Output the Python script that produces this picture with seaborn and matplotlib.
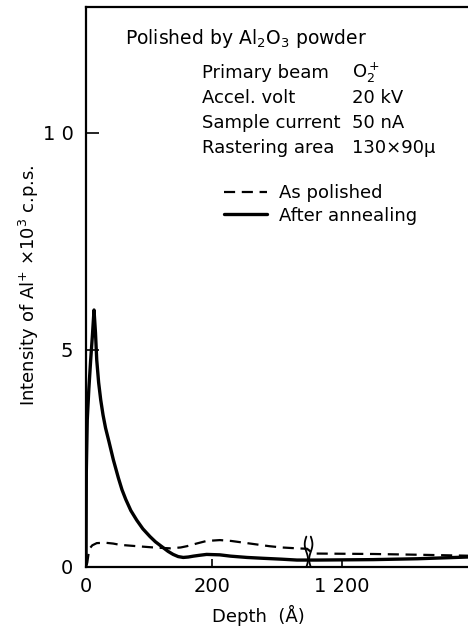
import numpy as np
import pandas as pd
import matplotlib
matplotlib.use("Agg")
import matplotlib.pyplot as plt
from matplotlib.lines import Line2D
import seaborn as sns

# Depth profiles of Al+ secondary-ion intensity (x10^3 c.p.s.) vs depth (Angstrom)
depth_polished = [1, 2, 4, 6, 10, 17, 30, 43, 54, 80, 107, 133, 150, 160, 175,
                  191, 212, 230, 250, 270, 290, 310, 334, 350,
                  1155, 1250, 1330, 1400]
intensity_polished = [0.05, 0.1, 0.3, 0.43, 0.5, 0.55, 0.56, 0.54, 0.51, 0.48,
                      0.45, 0.43, 0.45, 0.48, 0.54, 0.6, 0.62, 0.6, 0.56, 0.52,
                      0.48, 0.45, 0.43, 0.42,
                      0.31, 0.30, 0.28, 0.26]

depth_annealed = [0, 0.5, 2, 4.5, 7.4, 10, 12.7, 15, 17, 20, 23.3, 27, 31, 36.5,
                  43.3, 51.3, 57, 62.9, 71, 80.3, 90, 101.4, 110, 120, 130,
                  138, 146, 154, 162, 170, 180, 191, 212, 229, 255, 281, 310,
                  334, 350, 1160, 1250, 1320, 1400]
intensity_annealed = [0, 2.2, 3.39, 4.1, 4.77, 5.3, 5.92, 5.4, 4.77, 4.25, 3.85,
                      3.5, 3.2, 2.88, 2.47, 2.05, 1.78, 1.56, 1.3, 1.08, 0.88,
                      0.7, 0.58, 0.47, 0.36, 0.29, 0.24, 0.22, 0.23, 0.25,
                      0.27, 0.29, 0.28, 0.25, 0.22, 0.2, 0.18, 0.16, 0.16,
                      0.16, 0.17, 0.19, 0.23]

series_labels = ["As polished", "After annealing"]
x_ticks = [0, 200, 1200]
x_ticklabels = ["0", "200", "1 200"]
y_ticks = [0, 5, 10]
y_ticklabels = ["0", "5", "1 0"]

# Broken depth axis: 350-1150 A is squeezed into a narrow gap
BREAK_LO, BREAK_HI, GAP = 350.0, 1150.0, 5.0
SPAN = BREAK_HI - BREAK_LO


def forward(d):
    d = np.asarray(d, dtype=float)
    return np.where(d <= BREAK_LO, d,
                    np.where(d >= BREAK_HI, d - SPAN + GAP,
                             BREAK_LO + (d - BREAK_LO) * GAP / SPAN))


def inverse(p):
    p = np.asarray(p, dtype=float)
    return np.where(p <= BREAK_LO, p,
                    np.where(p >= BREAK_LO + GAP, p + SPAN - GAP,
                             BREAK_LO + (p - BREAK_LO) * SPAN / GAP))


df = pd.concat([
    pd.DataFrame({"depth": depth_polished, "intensity": intensity_polished,
                  "state": series_labels[0]}),
    pd.DataFrame({"depth": depth_annealed, "intensity": intensity_annealed,
                  "state": series_labels[1]}),
], ignore_index=True)

sns.set_style("white")
plt.rcParams["font.family"] = ["DejaVu Sans"]
plt.rcParams["mathtext.fontset"] = "dejavusans"
plt.rcParams["text.color"] = "black"
plt.rcParams["axes.labelcolor"] = "black"
plt.rcParams["xtick.color"] = "black"
plt.rcParams["ytick.color"] = "black"

fig = plt.figure(figsize=(4.68, 6.30), dpi=100)
W, H = 468.0, 630.0
ax = fig.add_axes([86 / W, 1 - 567 / H, (468 - 86) / W, (567 - 7) / H])
ax.set_xscale("function", functions=(forward, inverse))

sns.lineplot(data=df, x="depth", y="intensity", style="state",
             style_order=series_labels,
             dashes={series_labels[0]: (5, 3), series_labels[1]: ""},
             color="black", legend=False, ax=ax, sort=False)
for line, lw in zip(ax.get_lines(), [1.6, 2.4]):
    line.set_linewidth(lw)
    line.set_solid_capstyle("round")
    line.set_solid_joinstyle("round")

ax.set_xlim(0, 1400)
ax.set_ylim(0, 12.9)

for side in ["top", "left", "bottom"]:
    ax.spines[side].set_visible(True)
    ax.spines[side].set_color("black")
    ax.spines[side].set_linewidth(1.6)
ax.spines["right"].set_visible(False)

ax.set_xticks(x_ticks)
ax.set_xticklabels(x_ticklabels)
ax.set_yticks(y_ticks)
ax.set_yticklabels(y_ticklabels)
ax.xaxis.set_minor_locator(matplotlib.ticker.NullLocator())
ax.yaxis.set_minor_locator(matplotlib.ticker.NullLocator())
ax.tick_params(axis="x", direction="in", length=6, width=1.2, pad=7,
               labelsize=14, bottom=True, top=False, colors="black")
ax.tick_params(axis="y", direction="in", length=9, width=1.2, pad=9,
               labelsize=14, left=True, right=False, colors="black")

ax.set_xlabel("Depth  (Å)", fontsize=13, color="black")
ax.xaxis.set_label_coords((258 - 86) / (468 - 86), -(615 - 567) / (567 - 7))
ax.set_ylabel(r"Intensity of Al$^{+}$ ×10$^{3}$ c.p.s.", fontsize=13,
              color="black")
ax.yaxis.set_label_coords(-(86 - 29) / (468 - 86), 1 - (285 - 7) / (567 - 7))
ax.xaxis.label.set_va("center")
ax.yaxis.label.set_va("center")

# Axis-break squiggles (brace-like marks on either side of the gap)
yb = np.linspace(0, 0.7, 60)
wiggle = np.sin(np.linspace(0, 2 * np.pi, 60))
for xb, sgn in ((BREAK_LO - 1.0, 1.0), (BREAK_LO + GAP + 1.0, -1.0)):
    xs = inverse(xb + sgn * 2.6 * wiggle)
    ax.plot(xs, yb, color="black", lw=1.3, clip_on=False)

handles = [Line2D([], [], color="black", lw=1.6, dashes=(5, 3)),
           Line2D([], [], color="black", lw=2.4)]
ax.legend(handles, series_labels, loc="center left",
          bbox_to_anchor=((224 - 86) / (468 - 86), 1 - (204.5 - 7) / (567 - 7)),
          frameon=False, fontsize=13, handlelength=2.4, handletextpad=0.65,
          labelspacing=0.25, borderpad=0, borderaxespad=0,
          labelcolor="black")


def put(x, y, s, size=13):
    fig.text(x / W, 1 - y / H, s, fontsize=size, va="baseline", color="black")


put(125, 44, r"Polished by Al$_2$O$_3$ powder", size=13.5)
rows = ["Primary beam", "Accel. volt", "Sample current", "Rastering area"]
vals = [r"O$_2^+$", "20 kV", "50 nA", "130×90μ"]
for i, (r, v) in enumerate(zip(rows, vals)):
    yy = 78 + 25 * i
    put(202, yy, r)
    put(352, yy, v)

fig.savefig("out.png", dpi=100)
